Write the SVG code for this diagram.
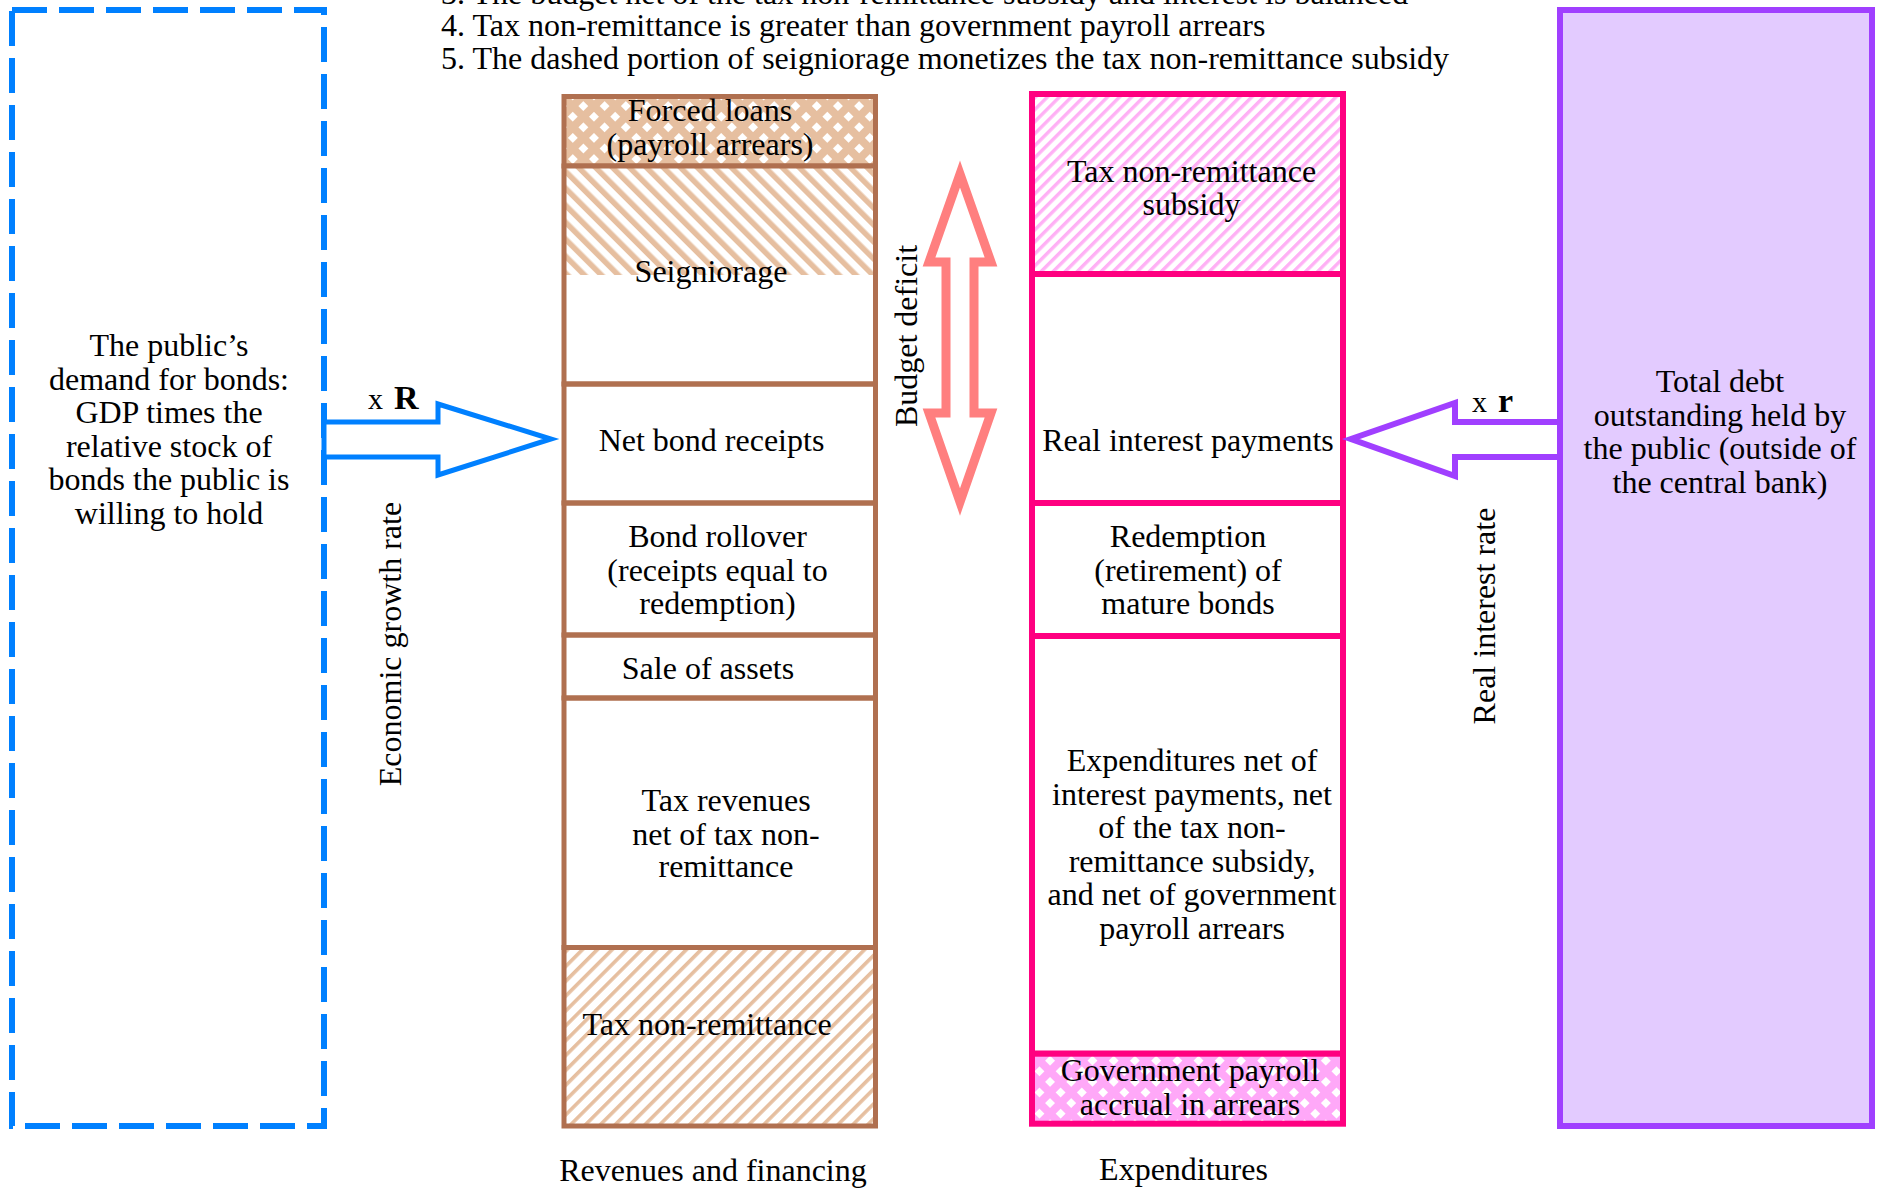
<svg xmlns="http://www.w3.org/2000/svg" width="1881" height="1189" viewBox="0 0 1881 1189">
<style>
text{font-family:"Liberation Serif","Times New Roman",serif;font-size:32px;fill:#000}
.c{text-anchor:middle}
.br{fill:none;stroke:#B07050;stroke-width:5}
.pk{fill:none;stroke:#FF0080;stroke-width:6}
.lbl{font-size:30px}
.b{font-weight:bold;font-size:34px}
</style>
<defs>
<pattern id="hSeig" patternUnits="userSpaceOnUse" width="12" height="12" patternTransform="rotate(-45)"><rect width="12" height="12" fill="#fff"/><rect width="5.5" height="12" fill="#E6BFA0"/></pattern>
<pattern id="hTax" patternUnits="userSpaceOnUse" width="10.5" height="10.5" patternTransform="rotate(45)"><rect width="10.5" height="10.5" fill="#fff"/><rect width="3.6" height="10.5" fill="#E6BFA0"/></pattern>
<pattern id="hSub" patternUnits="userSpaceOnUse" width="8.5" height="8.5" patternTransform="rotate(45)"><rect width="8.5" height="8.5" fill="#fff"/><rect width="3.4" height="8.5" fill="#FFB0F5"/></pattern>
<pattern id="xBr" patternUnits="userSpaceOnUse" width="15" height="15" patternTransform="rotate(45)"><rect width="15" height="15" fill="#E6BFA0"/><rect x="4" y="4" width="7" height="7" fill="#fff"/></pattern>
<pattern id="xPk" patternUnits="userSpaceOnUse" width="15" height="15" patternTransform="rotate(45)"><rect width="15" height="15" fill="#FFA8F8"/><rect x="4" y="4" width="7" height="7" fill="#fff"/></pattern>
</defs>
<rect width="1881" height="1189" fill="#fff"/>

<g id="notes">
<text x="441" y="4">3. The budget net of the tax non-remittance subsidy and interest is balanced</text>
<text x="441" y="36">4. Tax non-remittance is greater than government payroll arrears</text>
<text x="441" y="69">5. The dashed portion of seigniorage monetizes the tax non-remittance subsidy</text>
</g>

<g id="demand">
<rect x="12" y="10" width="312" height="1116" fill="none" stroke="#0080FF" stroke-width="6" stroke-dasharray="35 12"/>
<text class="c" x="169" y="356">The public’s</text>
<text class="c" x="169" y="389.6">demand for bonds:</text>
<text class="c" x="169" y="423.2">GDP times the</text>
<text class="c" x="169" y="456.8">relative stock of</text>
<text class="c" x="169" y="490.4">bonds the public is</text>
<text class="c" x="169" y="524">willing to hold</text>
</g>

<g id="debt">
<rect x="1560" y="10" width="312" height="1116" fill="#E3CBFF" stroke="#A03FFF" stroke-width="6"/>
<text class="c" x="1720" y="392">Total debt</text>
<text class="c" x="1720" y="425.6">outstanding held by</text>
<text class="c" x="1720" y="459.2">the public (outside of</text>
<text class="c" x="1720" y="492.8">the central bank)</text>
</g>

<g id="forced-loans">
<rect x="564" y="96.5" width="311.5" height="69.5" fill="url(#xBr)"/>
<rect class="br" x="564" y="96.5" width="311.5" height="69.5"/>
<text class="c" x="710" y="121">Forced loans</text>
<text class="c" x="710" y="155">(payroll arrears)</text>
</g>
<g id="seigniorage">
<rect x="566" y="166" width="307.5" height="109" fill="url(#hSeig)"/>
<rect class="br" x="564" y="166" width="311.5" height="218"/>
<text class="c" x="711" y="282">Seigniorage</text>
</g>
<g id="net-bond-receipts">
<rect class="br" x="564" y="384" width="311.5" height="119"/>
<text class="c" x="711.5" y="451">Net bond receipts</text>
</g>
<g id="bond-rollover">
<rect class="br" x="564" y="503" width="311.5" height="132"/>
<text class="c" x="717.5" y="546.5">Bond rollover</text>
<text class="c" x="717.5" y="580.5">(receipts equal to</text>
<text class="c" x="717.5" y="614">redemption)</text>
</g>
<g id="sale-of-assets">
<rect class="br" x="564" y="635" width="311.5" height="63"/>
<text class="c" x="708" y="679">Sale of assets</text>
</g>
<g id="tax-revenues">
<rect class="br" x="564" y="698" width="311.5" height="249.5"/>
<text class="c" x="726" y="810.5">Tax revenues</text>
<text class="c" x="726" y="844.5">net of tax non-</text>
<text class="c" x="726" y="877">remittance</text>
</g>
<g id="tax-non-remittance">
<rect x="564" y="947.5" width="311.5" height="178.5" fill="url(#hTax)"/>
<rect class="br" x="564" y="947.5" width="311.5" height="178.5"/>
<text class="c" x="707" y="1034.5">Tax non-remittance</text>
</g>
<g id="revenues-title">
<text class="c" x="713" y="1181">Revenues and financing</text>
</g>

<g id="subsidy">
<rect x="1032" y="94" width="311" height="180" fill="url(#hSub)"/>
<rect class="pk" x="1032" y="94" width="311" height="180"/>
<text class="c" x="1191.5" y="181.5">Tax non-remittance</text>
<text class="c" x="1191.5" y="215">subsidy</text>
</g>
<g id="real-interest-payments">
<rect class="pk" x="1032" y="274" width="311" height="229"/>
<text class="c" x="1188" y="451">Real interest payments</text>
</g>
<g id="redemption">
<rect class="pk" x="1032" y="503" width="311" height="133"/>
<text class="c" x="1188" y="546.5">Redemption</text>
<text class="c" x="1188" y="580.5">(retirement) of</text>
<text class="c" x="1188" y="614">mature bonds</text>
</g>
<g id="expenditures-net">
<rect class="pk" x="1032" y="636" width="311" height="417.7"/>
<text class="c" x="1192" y="771">Expenditures net of</text>
<text class="c" x="1192" y="804.6">interest payments, net</text>
<text class="c" x="1192" y="838.2">of the tax non-</text>
<text class="c" x="1192" y="871.8">remittance subsidy,</text>
<text class="c" x="1192" y="905.4">and net of government</text>
<text class="c" x="1192" y="939">payroll arrears</text>
</g>
<g id="payroll-accrual">
<rect x="1032" y="1053.7" width="311" height="70" fill="url(#xPk)"/>
<rect class="pk" x="1032" y="1053.7" width="311" height="70"/>
<text class="c" x="1190" y="1081">Government payroll</text>
<text class="c" x="1190" y="1114.5">accrual in arrears</text>
</g>
<g id="expenditures-title">
<text class="c" x="1183.5" y="1180">Expenditures</text>
</g>

<g id="connectors">
<polygon points="324,422 438,422 438,404 551,439 438,475 438,457 324,457" fill="#fff" stroke="#0080FF" stroke-width="5"/>
<text class="lbl" x="368" y="409">x</text>
<text class="b" x="394" y="409">R</text>
<text transform="translate(401,644) rotate(-90)" class="c">Economic growth rate</text>

<polygon points="1560,422 1455,422 1455,403 1351,439 1455,476 1455,457 1560,457" fill="#fff" stroke="#A03FFF" stroke-width="6"/>
<text class="lbl" x="1472" y="412">x</text>
<text class="b" x="1498" y="412">r</text>
<text transform="translate(1495,616) rotate(-90)" class="c">Real interest rate</text>

<polygon points="960,174 991,262 974,262 974,413 991,413 960,502 929,413 946,413 946,262 929,262" fill="#fff" stroke="#FF7F7F" stroke-width="9"/>
<text transform="translate(917,336) rotate(-90)" class="c">Budget deficit</text>
</g>
</svg>
